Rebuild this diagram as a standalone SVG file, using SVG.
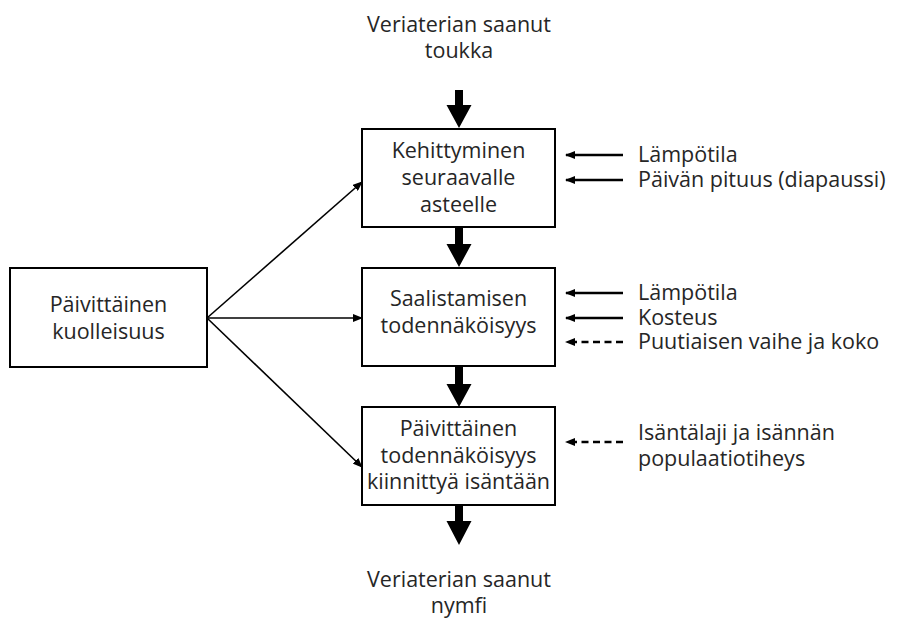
<svg xmlns="http://www.w3.org/2000/svg" width="897" height="619" viewBox="0 0 897 619">
<defs>
<marker id="ah" markerWidth="10" markerHeight="8" refX="9" refY="4" orient="auto" markerUnits="userSpaceOnUse">
<path d="M0,0 L10,4 L0,8 Z" fill="#000"/>
</marker>
<marker id="ah2" markerWidth="10" markerHeight="8" refX="9" refY="4" orient="auto" markerUnits="userSpaceOnUse">
<path d="M0,0 L10,4 L0,8 Z" fill="#000"/>
</marker>
<style>
.box{fill:#fff;stroke:#000;stroke-width:2}
.t{font-family:"Open Sans","Liberation Sans",sans-serif;font-size:21.5px;fill:#262626}
.c{text-anchor:middle}
.ln{stroke:#000;stroke-width:1.6;fill:none}
.sd{stroke:#000;stroke-width:2.6;fill:none}
.dash{stroke-dasharray:7,4.5}
.big{fill:#000}
</style>
</defs>
<rect width="897" height="619" fill="#fff"/>
<g id="connectors">
<polygon class="big" points="455,90 463,90 463,105 471.5,105 459,128 446.5,105 455,105"/>
<polygon class="big" points="455,227 463,227 463,244 471.5,244 459,267 446.5,244 455,244"/>
<polygon class="big" points="455,366 463,366 463,384 471.5,384 459,407 446.5,384 455,384"/>
<polygon class="big" points="455,505 463,505 463,521 471.5,521 459,545 446.5,521 455,521"/>
<line class="ln" x1="207" y1="318" x2="362" y2="182" marker-end="url(#ah)"/>
<line class="ln" x1="207" y1="318" x2="362" y2="318" marker-end="url(#ah)"/>
<line class="ln" x1="207" y1="318" x2="362" y2="467" marker-end="url(#ah)"/>
<line class="sd" x1="623" y1="155" x2="566" y2="155" marker-end="url(#ah2)"/>
<line class="sd" x1="623" y1="180" x2="566" y2="180" marker-end="url(#ah2)"/>
<line class="sd" x1="623" y1="293" x2="566" y2="293" marker-end="url(#ah2)"/>
<line class="sd" x1="623" y1="318" x2="566" y2="318" marker-end="url(#ah2)"/>
<line class="sd dash" x1="623" y1="342" x2="566" y2="342" marker-end="url(#ah2)"/>
<line class="sd dash" x1="623" y1="442" x2="566" y2="442" marker-end="url(#ah2)"/>
</g>
<g id="start">
<text class="t c" x="459" y="32">Veriaterian saanut</text>
<text class="t c" x="459" y="58">toukka</text>
</g>
<g id="kehittyminen">
<rect class="box" x="362" y="129" width="193" height="98"/>
<text class="t c" x="458.5" y="158">Kehittyminen</text>
<text class="t c" x="458.5" y="185">seuraavalle</text>
<text class="t c" x="458.5" y="212">asteelle</text>
</g>
<g id="saalistaminen">
<rect class="box" x="362" y="268" width="193" height="98"/>
<text class="t c" x="458.5" y="306">Saalistamisen</text>
<text class="t c" x="458.5" y="333">todennäköisyys</text>
</g>
<g id="kiinnittyminen">
<rect class="box" x="362" y="407" width="193" height="98"/>
<text class="t c" x="458.5" y="436">Päivittäinen</text>
<text class="t c" x="458.5" y="463">todennäköisyys</text>
<text class="t c" x="458.5" y="489">kiinnittyä isäntään</text>
</g>
<g id="kuolleisuus">
<rect class="box" x="10" y="268" width="197" height="99"/>
<text class="t c" x="108.5" y="312">Päivittäinen</text>
<text class="t c" x="108.5" y="339">kuolleisuus</text>
</g>
<g id="end">
<text class="t c" x="459" y="587">Veriaterian saanut</text>
<text class="t c" x="459" y="613">nymfi</text>
</g>
<g id="factors1">
<text class="t" x="638" y="162">Lämpötila</text>
<text class="t" x="638" y="187">Päivän pituus (diapaussi)</text>
</g>
<g id="factors2">
<text class="t" x="638" y="300">Lämpötila</text>
<text class="t" x="638" y="325">Kosteus</text>
<text class="t" x="638" y="349">Puutiaisen vaihe ja koko</text>
</g>
<g id="factors3">
<text class="t" x="638" y="440">Isäntälaji ja isännän</text>
<text class="t" x="638" y="466">populaatiotiheys</text>
</g>
</svg>
